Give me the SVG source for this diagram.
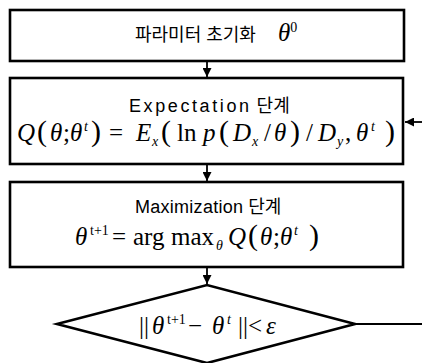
<svg xmlns="http://www.w3.org/2000/svg" width="422" height="363" viewBox="0 0 422 363">
<defs>
<style>
.box{fill:#fff;stroke:#000;stroke-width:2.6}
.conn{stroke:#000;stroke-width:1.8;fill:none}
.ko{font-family:"Liberation Sans","Noto Sans CJK KR",sans-serif;font-size:18px;fill:#000}
.m{font-family:"Liberation Serif",serif;font-style:italic;font-size:25px;fill:#000}
.r{font-style:normal}
.p{font-style:normal;font-size:30px}
.s{font-size:14px}
</style>
<marker id="ah" viewBox="0 0 10 10" refX="10" refY="5" markerWidth="9" markerHeight="9" markerUnits="userSpaceOnUse" orient="auto">
<path d="M0,0 L10,5 L0,10 z" fill="#000"/>
</marker>
</defs>
<rect width="422" height="363" fill="#fff"/>
<g id="connectors">
<line class="conn" x1="207" y1="61" x2="207" y2="77" marker-end="url(#ah)"/>
<line class="conn" x1="207" y1="164" x2="207" y2="181" marker-end="url(#ah)"/>
<line class="conn" x1="207" y1="267" x2="207" y2="284" marker-end="url(#ah)"/>
<line class="conn" x1="422" y1="122" x2="405" y2="122" marker-end="url(#ah)"/>
<line class="conn" x1="355" y1="324" x2="422" y2="324"/>
</g>
<g id="init">
<rect class="box" x="10" y="10" width="394" height="51"/>
<text class="ko" x="135" y="41" font-size="17">파라미터 초기화</text>
<text class="m" x="278" y="41" font-size="24">θ<tspan class="r s" dy="-9">0</tspan></text>
</g>
<g id="expectation">
<rect class="box" x="10" y="78" width="393" height="86"/>
<text class="ko" x="129" y="112" font-size="19"><tspan textLength="120" lengthAdjust="spacing">Expectation</tspan> 단계</text>
<text class="m" y="141"><tspan x="17">Q</tspan><tspan class="p" x="37">(</tspan><tspan x="50">θ</tspan><tspan class="r" x="63">;</tspan><tspan x="70">θ</tspan><tspan class="s" x="84" dy="-10">t</tspan><tspan class="p" x="91" dy="10">)</tspan><tspan class="r" x="109">=</tspan><tspan x="136">E</tspan><tspan class="s" x="152" dy="5">x</tspan><tspan class="p" x="161" dy="-5">(</tspan><tspan class="r" x="177">ln</tspan><tspan x="203">p</tspan><tspan class="p" x="219">(</tspan><tspan x="233">D</tspan><tspan class="s" x="252" dy="5">x</tspan><tspan class="r" x="264" dy="-5">/</tspan><tspan x="274">θ</tspan><tspan class="p" x="290">)</tspan><tspan class="r" x="306">/</tspan><tspan x="318">D</tspan><tspan class="s" x="337" dy="5">y</tspan><tspan class="r" x="345" dy="-5">,</tspan><tspan x="356">θ</tspan><tspan class="s" x="371" dy="-10">t</tspan><tspan class="p" x="385" dy="10">)</tspan></text>
</g>
<g id="maximization">
<rect class="box" x="10" y="182" width="393" height="85"/>
<text class="ko" x="135" y="213"><tspan textLength="108" lengthAdjust="spacing">Maximization</tspan> 단계</text>
<text class="m" y="245"><tspan x="75">θ</tspan><tspan class="r s" x="90" dy="-10">t+1</tspan><tspan class="r" x="112" dy="10">=</tspan><tspan class="r" x="133">arg</tspan><tspan class="r" x="171">max</tspan><tspan class="s" x="216" dy="5">θ</tspan><tspan x="228" dy="-5">Q</tspan><tspan class="p" x="248">(</tspan><tspan x="260">θ</tspan><tspan class="r" x="273">;</tspan><tspan x="280">θ</tspan><tspan class="s" x="294" dy="-10">t</tspan><tspan class="p" x="309" dy="10">)</tspan></text>
</g>
<g id="converge">
<polygon class="box" points="57,324 207,285 355,324 207,363"/>
<text class="m" y="334"><tspan class="r" x="139">||</tspan><tspan x="152">θ</tspan><tspan class="r s" x="167" dy="-10">t+1</tspan><tspan class="r" x="188" dy="10">−</tspan><tspan x="212">θ</tspan><tspan class="s" x="227" dy="-10">t</tspan><tspan class="r" x="238" dy="10">||</tspan><tspan class="r" x="248">&lt;</tspan><tspan x="266">ε</tspan></text>
</g>
</svg>
